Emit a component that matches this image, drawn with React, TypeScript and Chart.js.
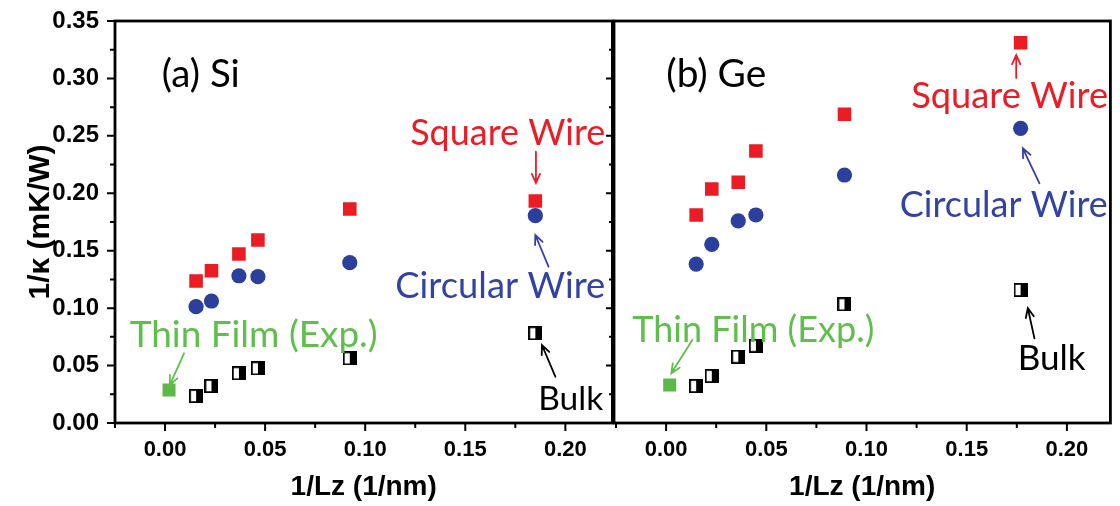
import React, { useEffect, useRef } from 'react';
import { Chart, registerables } from 'chart.js';
Chart.register(...registerables);

// ---------- data ----------
const siLz = [0.0155, 0.0232, 0.0369, 0.0464, 0.0923, 0.185];
const siSquare = [0.1236, 0.1326, 0.1471, 0.1593, 0.1863, 0.1933];
const siCircle = [0.1013, 0.1062, 0.1282, 0.1274, 0.1396, 0.1805];
const siBulk = [0.0235, 0.0322, 0.0433, 0.0476, 0.0563, 0.0781];
const siFilmLz = [0.002];
const siFilm = [0.0287];

const geLz = [0.015, 0.0228, 0.036, 0.0448, 0.089, 0.1769];
const geSquare = [0.1811, 0.2037, 0.2096, 0.2368, 0.2688, 0.3311];
const geCircle = [0.1384, 0.1556, 0.1759, 0.1811, 0.2159, 0.2566];
const geBulk = [0.0322, 0.0409, 0.0577, 0.0673, 0.1033, 0.1158];
const geFilmLz = [0.0018];
const geFilm = [0.0331];

const yMajor = [0, 0.05, 0.1, 0.15, 0.2, 0.25, 0.3, 0.35];
const xMajor = [0, 0.05, 0.1, 0.15, 0.2];
const xTickLabels = ['0.00', '0.05', '0.10', '0.15', '0.20'];
const yTickLabels = ['0.00', '0.05', '0.10', '0.15', '0.20', '0.25', '0.30', '0.35'];

const xTitle = '1/Lz (1/nm)';
const yTitle = '1/\u03BA (mK/W)';

// ---------- styles ----------
const RED = '#ec1c24';
const BLUE = '#2b3f9c';
const GREEN = '#5cb947';
const BLUE_TXT = '#3343a3';
const GREEN_TXT = '#5ec04a';
const AXIS_FONT = 'Arial, "Liberation Sans", sans-serif';
const NOTE_FONT = 'Lato, "Open Sans", sans-serif';

type Note = { text: string; x: number; y: number; color: string; w: number; align?: CanvasTextAlign };
type Arrow = { x1: number; y1: number; x2: number; y2: number; color: string };

const siNotes: Note[] = [
  { text: '(a) Si', x: -0.0016, y: 0.2928, color: '#000', w: 78, align: 'left' },
  { text: 'Square Wire', x: 0.1712, y: 0.242, color: RED, w: 195 },
  { text: 'Circular Wire', x: 0.1675, y: 0.1088, color: BLUE_TXT, w: 210 },
  { text: 'Bulk', x: 0.2027, y: 0.0113, color: '#000', w: 65 },
  { text: 'Thin Film (Exp.)', x: 0.0443, y: 0.0664, color: GREEN_TXT, w: 248 },
];
const siArrows: Arrow[] = [
  { x1: 0.1853, y1: 0.2362, x2: 0.1853, y2: 0.2089, color: RED },
  { x1: 0.1916, y1: 0.1361, x2: 0.185, y2: 0.1637, color: BLUE_TXT },
  { x1: 0.195, y1: 0.0403, x2: 0.1883, y2: 0.0679, color: '#000' },
  { x1: 0.0095, y1: 0.0607, x2: 0.0024, y2: 0.0331, color: GREEN_TXT },
];
const geNotes: Note[] = [
  { text: '(b) Ge', x: 0.0001, y: 0.2928, color: '#000', w: 100, align: 'left' },
  { text: 'Square Wire', x: 0.1714, y: 0.2742, color: RED, w: 197 },
  { text: 'Circular Wire', x: 0.1685, y: 0.1796, color: BLUE_TXT, w: 208 },
  { text: 'Bulk', x: 0.1924, y: 0.0461, color: '#000', w: 68 },
  { text: 'Thin Film (Exp.)', x: 0.0435, y: 0.0708, color: GREEN_TXT, w: 242 },
];
const geArrows: Arrow[] = [
  { x1: 0.1747, y1: 0.3004, x2: 0.1747, y2: 0.3204, color: RED },
  { x1: 0.1863, y1: 0.2087, x2: 0.178, y2: 0.2392, color: BLUE_TXT },
  { x1: 0.1838, y1: 0.0737, x2: 0.1805, y2: 0.0999, color: '#000' },
  { x1: 0.0131, y1: 0.0723, x2: 0.0026, y2: 0.0433, color: GREEN_TXT },
];

function makeBulkStyle(): HTMLCanvasElement {
  const c = document.createElement('canvas');
  const s = 14;
  c.width = s;
  c.height = s;
  const g = c.getContext('2d')!;
  g.fillStyle = '#fff';
  g.fillRect(0, 0, s, s);
  g.fillStyle = '#000';
  g.fillRect(s / 2, 0, s / 2, s);
  g.strokeStyle = '#000';
  g.lineWidth = 1.8;
  g.strokeRect(0.9, 0.9, s - 1.8, s - 1.8);
  return c;
}

function mids(a: number[]) {
  const r: number[] = [];
  for (let i = 0; i < a.length - 1; i++) r.push((a[i] + a[i + 1]) / 2);
  return r;
}

function framePlugin() {
  return {
    id: 'frameTicks',
    afterDraw(chart: any) {
      const { ctx, chartArea: a, scales } = chart;
      const xs = scales.x;
      const ys = scales.y;
      ctx.save();
      ctx.strokeStyle = '#000';
      ctx.lineWidth = 2;
      ctx.beginPath();
      const yMinor = mids(yMajor);
      yMajor.forEach((v) => {
        const p = ys.getPixelForValue(v);
        ctx.moveTo(a.left - 8, p);
        ctx.lineTo(a.left, p);
      });
      yMinor.forEach((v) => {
        const p = ys.getPixelForValue(v);
        ctx.moveTo(a.left - 5, p);
        ctx.lineTo(a.left, p);
      });
      const xMinor = [xMajor[0] - (xMajor[1] - xMajor[0]) / 2, ...mids(xMajor)];
      xMajor.forEach((v) => {
        const p = xs.getPixelForValue(v);
        ctx.moveTo(p, a.bottom);
        ctx.lineTo(p, a.bottom + 8);
      });
      xMinor.forEach((v) => {
        const p = xs.getPixelForValue(v);
        if (p < a.left - 1) return;
        ctx.moveTo(p, a.bottom);
        ctx.lineTo(p, a.bottom + 5);
      });
      ctx.stroke();
      ctx.lineWidth = 2.8;
      ctx.strokeRect(a.left, a.top, a.right - a.left, a.bottom - a.top);
      ctx.restore();
    },
  };
}

function notesPlugin(notes: Note[], arrows: Arrow[]) {
  return {
    id: 'notes',
    afterDatasetsDraw(chart: any) {
      const { ctx, scales } = chart;
      const xs = scales.x;
      const ys = scales.y;
      ctx.save();
      arrows.forEach((ar) => {
        const x1 = xs.getPixelForValue(ar.x1);
        const y1 = ys.getPixelForValue(ar.y1);
        const x2 = xs.getPixelForValue(ar.x2);
        const y2 = ys.getPixelForValue(ar.y2);
        const ang = Math.atan2(y2 - y1, x2 - x1);
        const h = 10;
        const sp = 0.42;
        ctx.strokeStyle = ar.color;
        ctx.lineWidth = 1.8;
        ctx.lineCap = 'round';
        ctx.beginPath();
        ctx.moveTo(x1, y1);
        ctx.lineTo(x2, y2);
        ctx.moveTo(x2 - h * Math.cos(ang - sp), y2 - h * Math.sin(ang - sp));
        ctx.lineTo(x2, y2);
        ctx.lineTo(x2 - h * Math.cos(ang + sp), y2 - h * Math.sin(ang + sp));
        ctx.stroke();
      });
      notes.forEach((n) => {
        ctx.font = `30px ${NOTE_FONT}`;
        const m = ctx.measureText(n.text).width;
        const size = (30 * n.w) / m;
        ctx.font = `${size}px ${NOTE_FONT}`;
        ctx.fillStyle = n.color;
        ctx.textAlign = n.align || 'center';
        ctx.textBaseline = 'alphabetic';
        ctx.fillText(n.text, xs.getPixelForValue(n.x), ys.getPixelForValue(n.y));
      });
      ctx.restore();
    },
  };
}

function makeConfig(opts: {
  lz: number[]; sq: number[]; ci: number[]; bulk: number[]; filmLz: number[]; film: number[];
  xMin: number; xMax: number; showY: boolean; yWidth: number; padRight: number;
  notes: Note[]; arrows: Arrow[]; bulkStyle: HTMLCanvasElement;
}): any {
  const pts = (xs: number[], ys: number[]) => xs.map((x, i) => ({ x, y: ys[i] }));
  return {
    type: 'scatter',
    data: {
      datasets: [
        { label: 'Bulk', data: pts(opts.lz, opts.bulk), pointStyle: opts.bulkStyle, pointRadius: 7 },
        { label: 'Thin Film (Exp.)', data: pts(opts.filmLz, opts.film), pointStyle: 'rect', pointRadius: 9.2, backgroundColor: GREEN, borderWidth: 0 },
        { label: 'Circular Wire', data: pts(opts.lz, opts.ci), pointStyle: 'circle', pointRadius: 7.6, backgroundColor: BLUE, borderWidth: 0 },
        { label: 'Square Wire', data: pts(opts.lz, opts.sq), pointStyle: 'rect', pointRadius: 9.6, backgroundColor: RED, borderWidth: 0 },
      ],
    },
    options: {
      animation: false,
      responsive: false,
      devicePixelRatio: 1,
      events: [],
      layout: { padding: { top: 21, right: opts.padRight, left: 0, bottom: 0 } },
      plugins: { legend: { display: false }, tooltip: { enabled: false } },
      scales: {
        x: {
          type: 'linear',
          min: opts.xMin,
          max: opts.xMax,
          grid: { display: false },
          border: { display: false },
          afterBuildTicks: (s: any) => { s.ticks = xMajor.map((v) => ({ value: v })); },
          afterFit: (s: any) => { s.height = 83; s.paddingLeft = 0; s.paddingRight = 0; s.paddingTop = 0; s.paddingBottom = 0; },
          ticks: {
            padding: 6,
            color: '#000',
            font: { family: AXIS_FONT, size: 22, weight: 'bold' },
            callback: (v: number) => { const i = xMajor.findIndex((m) => Math.abs(m - v) < 1e-9); return i >= 0 ? xTickLabels[i] : ''; },
            maxRotation: 0,
            autoSkip: false,
          },
          title: {
            display: true,
            text: xTitle,
            color: '#000',
            font: { family: AXIS_FONT, size: 28, weight: 'bold' },
            padding: { top: 2, bottom: 2 },
          },
        },
        y: {
          type: 'linear',
          min: 0,
          max: 0.35,
          grid: { display: false },
          border: { display: false },
          afterBuildTicks: (s: any) => { s.ticks = yMajor.map((v) => ({ value: v })); },
          afterFit: (s: any) => { s.width = opts.yWidth; s.paddingLeft = 0; s.paddingRight = 0; s.paddingTop = 0; s.paddingBottom = 0; },
          ticks: {
            display: opts.showY,
            padding: 8,
            color: '#000',
            font: { family: AXIS_FONT, size: 24, weight: 'bold' },
            callback: (v: number) => { const i = yMajor.findIndex((m) => Math.abs(m - v) < 1e-9); return i >= 0 ? yTickLabels[i] : ''; },
            autoSkip: false,
          },
          title: {
            display: opts.showY,
            text: yTitle,
            color: '#000',
            font: { family: AXIS_FONT, size: 30, weight: 'bold' },
            padding: { top: 23, bottom: 0 },
          },
        },
      },
    },
    plugins: [notesPlugin(opts.notes, opts.arrows), framePlugin()],
  };
}

export default function App() {
  const leftRef = useRef<HTMLCanvasElement>(null);
  const rightRef = useRef<HTMLCanvasElement>(null);

  useEffect(() => {
    document.body.style.margin = '0';
    const bulkStyle = makeBulkStyle();
    const c1 = new Chart(leftRef.current!, makeConfig({
      lz: siLz, sq: siSquare, ci: siCircle, bulk: siBulk, filmLz: siFilmLz, film: siFilm,
      xMin: -0.025, xMax: 0.2235, showY: true, yWidth: 115, padRight: 8,
      notes: siNotes, arrows: siArrows, bulkStyle,
    }));
    const c2 = new Chart(rightRef.current!, makeConfig({
      lz: geLz, sq: geSquare, ci: geCircle, bulk: geBulk, filmLz: geFilmLz, film: geFilm,
      xMin: -0.026, xMax: 0.2217, showY: false, yWidth: 54, padRight: 7,
      notes: geNotes, arrows: geArrows, bulkStyle,
    }));
    return () => { c1.destroy(); c2.destroy(); };
  }, []);

  return (
    <div style={{ position: 'fixed', left: 0, top: 0, width: 1120, height: 506, background: '#fff', overflow: 'hidden' }}>
      <canvas ref={leftRef} width={622} height={506} style={{ position: 'absolute', left: 0, top: 0, width: 622, height: 506 }} />
      <canvas ref={rightRef} width={560} height={506} style={{ position: 'absolute', left: 560, top: 0, width: 560, height: 506 }} />
    </div>
  );
}
